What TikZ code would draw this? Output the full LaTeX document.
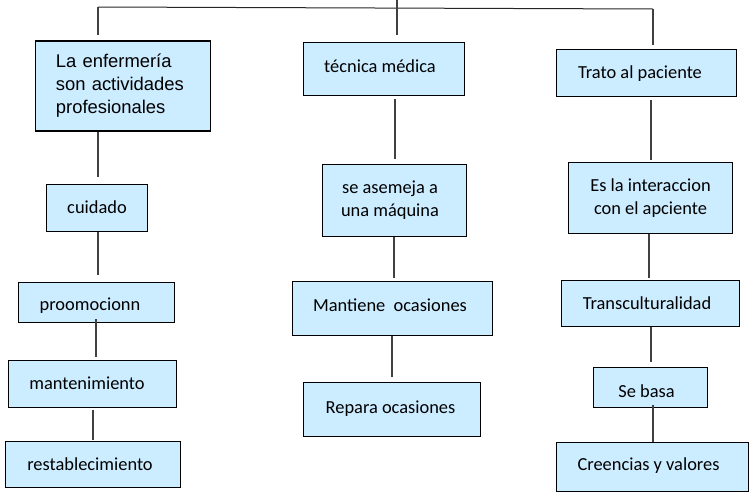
\documentclass[tikz,border=0pt]{standalone}
\usepackage{fontspec}
\setmainfont{Carlito}
\newfontfamily\arialfont{Liberation Sans}
\definecolor{boxblue}{RGB}{204,236,255}
\newcommand\toff[3]{\raisebox{#2}{\makebox[0pt]{\hspace{#1}#3}}}
\begin{document}
\begin{tikzpicture}[x=1pt,y=-1pt,
  box/.style={draw=black, line width=1.5pt, fill=boxblue, inner sep=0pt,
    font=\fontsize{18.4}{23}\selectfont},
  one/.style={box, text height=14pt, text depth=3pt},
  two/.style={box, align=center},
  conn/.style={draw=black!75, line width=1.1pt},
  topln/.style={draw=black!85, line width=1pt}]
\useasboundingbox (0,0) rectangle (753,493);

% top level boxes
\node[box, font=\arialfont\fontsize{18.4}{23}\selectfont, text width=134pt, align=left,
      minimum width=175pt, minimum height=90pt] (b1) at (123,86)
      {La enfermería\\son actividades\\profesionales};
\node[one, minimum width=161pt, minimum height=53pt] (tec) at (384,69)
      {\toff{-8pt}{2.5pt}{técnica médica}};
\node[one, minimum width=180pt, minimum height=47pt] (trato) at (646.5,73)
      {\toff{-13pt}{0pt}{Trato al paciente}};

% left column
\node[one, minimum width=101pt, minimum height=47pt] (cuid) at (97,208)
      {\toff{0pt}{0pt}{cuidado}};
\node[one, minimum width=156pt, minimum height=40pt] (proo) at (96.5,302.5)
      {\toff{-13pt}{-2pt}{proomocionn}};
\node[one, minimum width=168pt, minimum height=47pt] (mant) at (92.5,384)
      {\toff{-11pt}{0pt}{mantenimiento}};
\node[one, minimum width=175pt, minimum height=46pt] (rest) at (93,464.5)
      {\toff{-6pt}{0pt}{restablecimiento}};

% middle column
\node[two, minimum width=144pt, minimum height=72pt] (seas) at (394.5,200.5)
      {\toff{-9pt}{0pt}{se asemeja a}\\\toff{-9pt}{0pt}{una máquina}};
\node[one, minimum width=200pt, minimum height=54pt] (mantiene) at (392.5,308.5)
      {\toff{-5pt}{2.5pt}{Mantiene\ \ ocasiones}};
\node[one, minimum width=177pt, minimum height=54pt] (repara) at (392,409.5)
      {\toff{-3pt}{2pt}{Repara ocasiones}};

% right column
\node[two, minimum width=164pt, minimum height=71pt] (esla) at (650.5,198)
      {Es la interaccion\\con el apciente};
\node[one, minimum width=178pt, minimum height=46pt] (transc) at (650.5,303.5)
      {\toff{-7pt}{0pt}{Transculturalidad}};
\node[one, minimum width=114pt, minimum height=40pt] (sebasa) at (650.5,387.5)
      {\toff{-8pt}{-4pt}{Se basa}};
\node[one, minimum width=192pt, minimum height=49pt] (creen) at (652.5,467)
      {\toff{-8pt}{2pt}{Creencias y valores}};

% top connector structure
\coordinate (jT) at (397,0);
\coordinate (jL) at (98,7);
\coordinate (jR) at (653,9);
\draw[topln] (jL) -- (jR);
\draw[conn, shorten >=7pt] (jT) -- ([xshift=13pt]tec.north);
\draw[conn, shorten >=5pt] (jL) -- ([xshift=-25pt]b1.north);
\draw[conn, shorten >=4pt] (jR) -- ([xshift=6.5pt]trato.north);

% left column connectors
\draw[conn, shorten >=7pt] ([xshift=-25pt]b1.south) -- ([xshift=1pt]cuid.north);
\draw[conn, shorten >=7pt] ([xshift=1pt]cuid.south) -- ([xshift=1.5pt]proo.north);
\draw[conn, shorten <=-4pt, shorten >=3pt] ([xshift=-0.5pt]proo.south) -- ([xshift=3.5pt]mant.north);
\draw[conn, shorten <=2pt, shorten >=1pt] ([xshift=0.5pt]mant.south) -- (rest.north);

% middle column connectors
\draw[conn, shorten <=3pt, shorten >=5pt] ([xshift=11pt]tec.south) -- ([xshift=0.5pt]seas.north);
\draw[conn, shorten >=3pt] ([xshift=-0.5pt]seas.south) -- ([xshift=1.5pt]mantiene.north);
\draw[conn, shorten >=5pt] ([xshift=-0.5pt]mantiene.south) -- (repara.north);

% right column connectors
\draw[conn, shorten <=3pt, shorten >=2pt] ([xshift=4.5pt]trato.south) -- ([xshift=0.5pt]esla.north);
\draw[conn, shorten >=2pt] ([xshift=-1.5pt]esla.south) -- ([xshift=-1.5pt]transc.north);
\draw[conn, shorten >=5pt] ([xshift=0.5pt]transc.south) -- ([xshift=0.5pt]sebasa.north);
\draw[conn, shorten <=-3pt] ([xshift=2.5pt]sebasa.south) -- ([xshift=0.5pt]creen.north);
\end{tikzpicture}
\end{document}
